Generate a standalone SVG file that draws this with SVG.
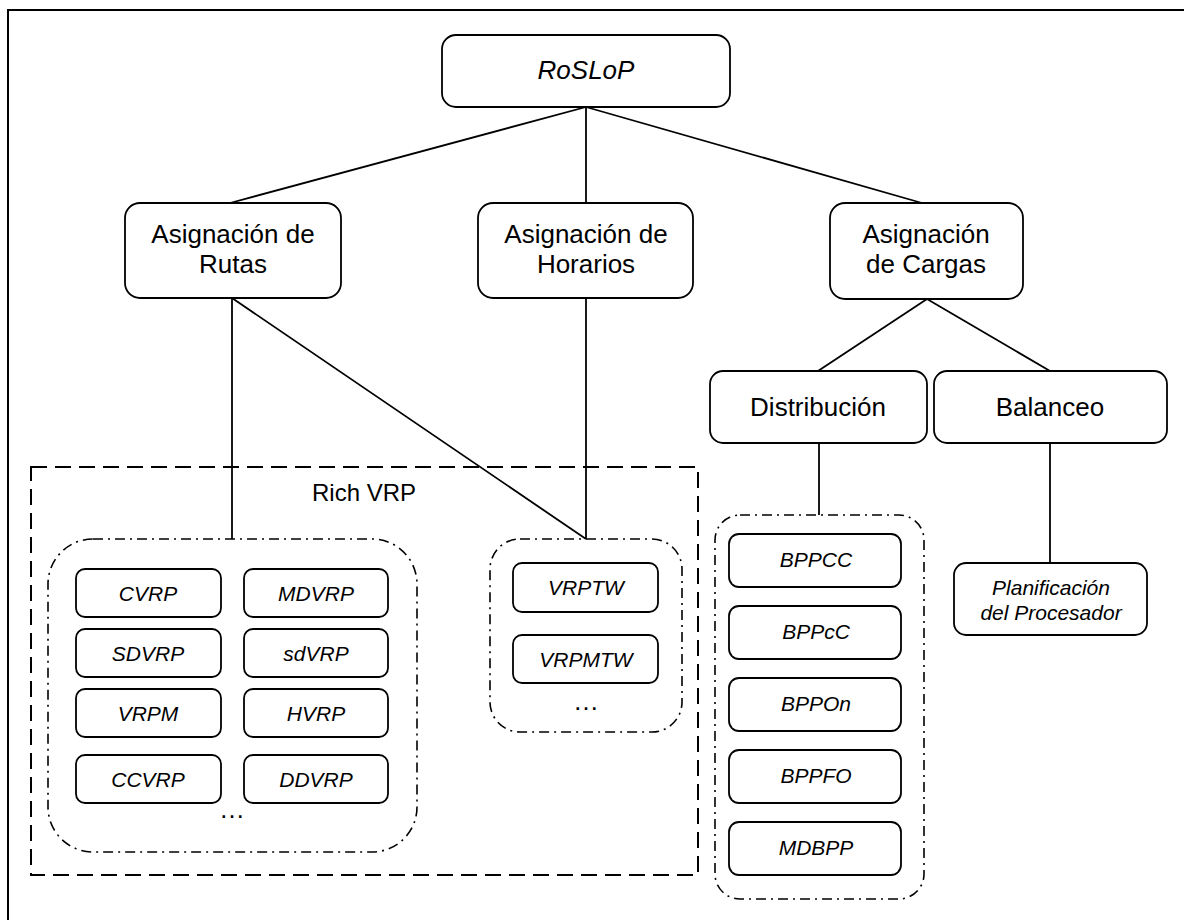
<svg xmlns="http://www.w3.org/2000/svg" width="1184" height="920" viewBox="0 0 1184 920">
<style>
.box{fill:#fff;stroke:#000;stroke-width:1.8}
.t{font-family:"Liberation Sans",Arial,sans-serif;font-size:26px;fill:#000;text-anchor:middle}
.ti{font-family:"Liberation Sans",Arial,sans-serif;font-size:21px;font-style:italic;fill:#000;text-anchor:middle}
.ln{stroke:#000;stroke-width:1.8;fill:none}
.dash{fill:none;stroke:#000;stroke-width:2;stroke-dasharray:16 8}
.dd{fill:none;stroke:#000;stroke-width:1.6;stroke-dasharray:10 5 2 5}
</style>
<rect x="0" y="0" width="1184" height="920" fill="#fff"/>
<rect x="8" y="10" width="1300" height="1000" fill="none" stroke="#000" stroke-width="2"/>
<g id="connectors">
<line class="ln" x1="586" y1="107" x2="230" y2="203"/>
<line class="ln" x1="586" y1="107" x2="586" y2="203"/>
<line class="ln" x1="586" y1="107" x2="922" y2="203"/>
<line class="ln" x1="927" y1="299" x2="818" y2="371"/>
<line class="ln" x1="927" y1="299" x2="1050" y2="371"/>
<line class="ln" x1="232" y1="298" x2="232" y2="539"/>
<line class="ln" x1="232" y1="298" x2="586" y2="539"/>
<line class="ln" x1="586" y1="298" x2="586" y2="539"/>
<line class="ln" x1="819" y1="443" x2="819" y2="515"/>
<line class="ln" x1="1050" y1="443" x2="1050" y2="563"/>
</g>
<g id="richvrp">
<rect class="dash" x="31" y="467" width="667" height="408"/>
<text class="t" x="364" y="501" style="font-size:24px">Rich VRP</text>
</g>
<g id="group-rutas">
<rect class="dd" x="48" y="539" width="369" height="313" rx="45"/>
<text class="t" x="232" y="818">…</text>
</g>
<g id="group-horarios">
<rect class="dd" x="490" y="539" width="192" height="193" rx="30"/>
<text class="t" x="586" y="710">…</text>
</g>
<g id="group-distribucion">
<rect class="dd" x="715" y="515" width="209" height="384" rx="25"/>
</g>
<g id="roslop"><rect class="box" x="442" y="35" width="288" height="72" rx="14"/><text class="t" x="586" y="79" style="font-style:italic">RoSLoP</text></g>
<g id="rutas"><rect class="box" x="125" y="203" width="216" height="95" rx="15"/><text class="t" x="233" y="243">Asignación de</text><text class="t" x="233" y="273">Rutas</text></g>
<g id="horarios"><rect class="box" x="478" y="203" width="215" height="95" rx="15"/><text class="t" x="586" y="243">Asignación de</text><text class="t" x="586" y="273">Horarios</text></g>
<g id="cargas"><rect class="box" x="830" y="203" width="193" height="96" rx="15"/><text class="t" x="926" y="243">Asignación</text><text class="t" x="926" y="273">de Cargas</text></g>
<g id="distribucion"><rect class="box" x="710" y="371" width="217" height="72" rx="13"/><text class="t" x="818" y="416">Distribución</text></g>
<g id="balanceo"><rect class="box" x="934" y="371" width="233" height="72" rx="13"/><text class="t" x="1050" y="416">Balanceo</text></g>
<g id="planificacion"><rect class="box" x="954" y="563" width="193" height="72" rx="12"/><text class="ti" x="1051" y="595">Planificación</text><text class="ti" x="1051" y="620">del Procesador</text></g>
<g id="cvrp"><rect class="box" x="76" y="569" width="145" height="48" rx="9"/><text class="ti" x="148" y="601">CVRP</text></g>
<g id="mdvrp"><rect class="box" x="244" y="569" width="144" height="48" rx="9"/><text class="ti" x="316" y="601">MDVRP</text></g>
<g id="sdvrp"><rect class="box" x="76" y="629" width="145" height="48" rx="9"/><text class="ti" x="148" y="661">SDVRP</text></g>
<g id="sdvrp2"><rect class="box" x="244" y="629" width="144" height="48" rx="9"/><text class="ti" x="316" y="661">sdVRP</text></g>
<g id="vrpm"><rect class="box" x="76" y="689" width="145" height="48" rx="9"/><text class="ti" x="148" y="721">VRPM</text></g>
<g id="hvrp"><rect class="box" x="244" y="689" width="144" height="48" rx="9"/><text class="ti" x="316" y="721">HVRP</text></g>
<g id="ccvrp"><rect class="box" x="76" y="755" width="145" height="48" rx="9"/><text class="ti" x="148" y="787">CCVRP</text></g>
<g id="ddvrp"><rect class="box" x="244" y="755" width="144" height="48" rx="9"/><text class="ti" x="316" y="787">DDVRP</text></g>
<g id="vrptw"><rect class="box" x="513" y="563" width="145" height="49" rx="9"/><text class="ti" x="586" y="595">VRPTW</text></g>
<g id="vrpmtw"><rect class="box" x="513" y="635" width="145" height="48" rx="9"/><text class="ti" x="586" y="667">VRPMTW</text></g>
<g id="bppcc"><rect class="box" x="729" y="534" width="172" height="53" rx="10"/><text class="ti" x="816" y="567">BPPCC</text></g>
<g id="bppcc2"><rect class="box" x="729" y="606" width="172" height="53" rx="10"/><text class="ti" x="816" y="639">BPPcC</text></g>
<g id="bppon"><rect class="box" x="729" y="678" width="172" height="53" rx="10"/><text class="ti" x="816" y="711">BPPOn</text></g>
<g id="bppfo"><rect class="box" x="729" y="750" width="172" height="53" rx="10"/><text class="ti" x="816" y="783">BPPFO</text></g>
<g id="mdbpp"><rect class="box" x="729" y="822" width="172" height="53" rx="10"/><text class="ti" x="816" y="855">MDBPP</text></g>
</svg>
